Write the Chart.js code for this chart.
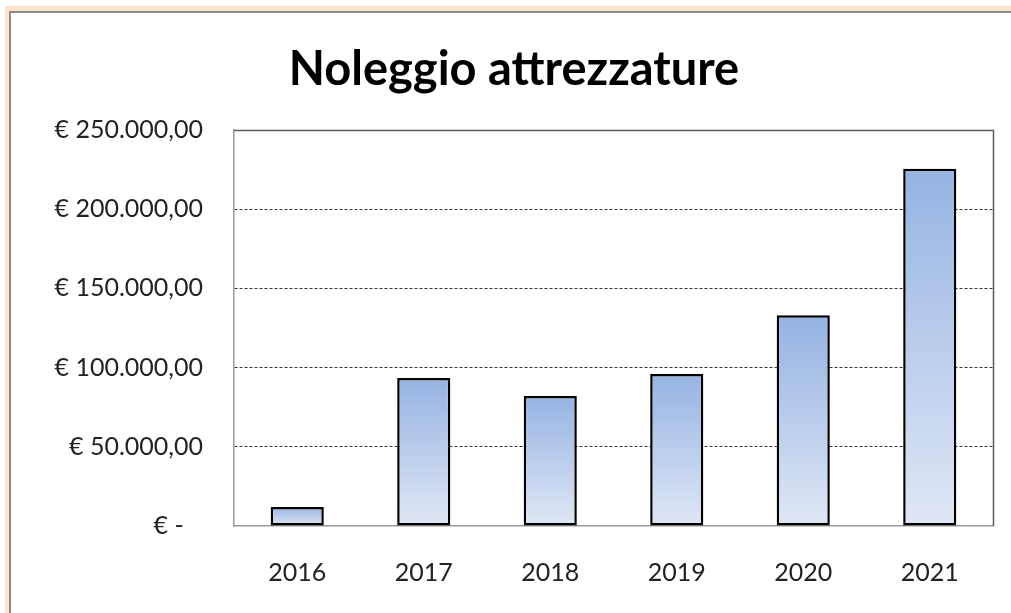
<!DOCTYPE html>
<html><head><meta charset="utf-8">
<script src="https://cdn.jsdelivr.net/npm/chart.js@4.4.1/dist/chart.umd.min.js"></script>
<style>html,body{margin:0;padding:0;background:#fff;}#wrap{position:relative;width:1011px;height:613px;}</style>
</head><body><div id="wrap"><canvas id="c" width="1011" height="613"></canvas></div>
<script>
const categories = ["2016","2017","2018","2019","2020","2021"];
const values = [12000, 93500, 82000, 96000, 133000, 225500];
const tickLabels = {0:"€ -   ",50000:"€ 50.000,00",100000:"€ 100.000,00",150000:"€ 150.000,00",200000:"€ 200.000,00",250000:"€ 250.000,00"};
const titleText = "Noleggio attrezzature";

const FONT = "Lato";

const framePlugin = {
  id:'frame',
  beforeDraw(chart){
    const c = chart.ctx;
    c.save();
    c.fillStyle = '#fff'; c.fillRect(0,0,chart.width,chart.height);
    c.fillStyle = '#FCE4CC';
    c.fillRect(5,6,chart.width-5,5);
    c.fillRect(5,6,4,chart.height-6);
    c.fillStyle = '#8a8a8a';
    c.fillRect(9,11,chart.width-9,2);
    c.fillRect(9,11,2,chart.height-11);
    c.restore();
  },
  afterDatasetsDraw(chart){
    const a = chart.chartArea, c = chart.ctx;
    c.save();
    c.strokeStyle = '#5a5a5a'; c.lineWidth = 1.5;
    c.beginPath();
    c.moveTo(a.left, a.top+0.5); c.lineTo(a.right+0.5, a.top+0.5);
    c.lineTo(a.right+0.5, a.bottom);
    c.stroke();
    c.restore();
  }
};

new Chart(document.getElementById('c'), {
  type:'bar',
  data:{labels:categories, datasets:[{
    data:values,
    backgroundColor:(ctx)=>{
      const ch = ctx.chart, s = ch.scales && ch.scales.y;
      if(!s || !ch.chartArea || ctx.raw === undefined) return '#b5c8ea';
      const top = s.getPixelForValue(ctx.raw), bot = s.getPixelForValue(0);
      const g = ch.ctx.createLinearGradient(0, top, 0, bot);
      g.addColorStop(0,'#95B3E2');
      g.addColorStop(1,'#E0E7F5');
      return g;
    },
    borderColor:'#000', borderWidth:2.5, borderSkipped:false,
    barPercentage:0.42, categoryPercentage:1
  }]},
  options:{
    responsive:false, animation:false, devicePixelRatio:1,
    layout:{padding:{left:35,right:18,top:0,bottom:0}},
    plugins:{
      legend:{display:false}, tooltip:{enabled:false},
      title:{display:true,text:titleText,color:'#000',
        font:{family:FONT,size:47,weight:'bold',lineHeight:1.2},
        padding:{top:42,bottom:31.6}}
    },
    scales:{
      x:{
        grid:{display:false,drawTicks:false},
        border:{display:true,color:'#9a9a9a',width:1.5},
        ticks:{color:'#222',font:{family:FONT,size:25},padding:32,maxRotation:0},
        afterFit(s){s.height=87;}
      },
      y:{
        min:0,max:250000,
        grid:{drawTicks:false,color:(c)=> (c.tick && (c.tick.value===0||c.tick.value===250000))?'rgba(0,0,0,0)':'#333',lineWidth:1},
        border:{display:true,color:'#9a9a9a',width:1.5,dash:[3,2]},
        ticks:{stepSize:50000,color:'#222',font:{family:FONT,size:25},padding:31,
          callback:(v)=>tickLabels[v]},
        afterFit(s){s.width=199;}
      }
    }
  },
  plugins:[framePlugin]
});
</script></body></html>
